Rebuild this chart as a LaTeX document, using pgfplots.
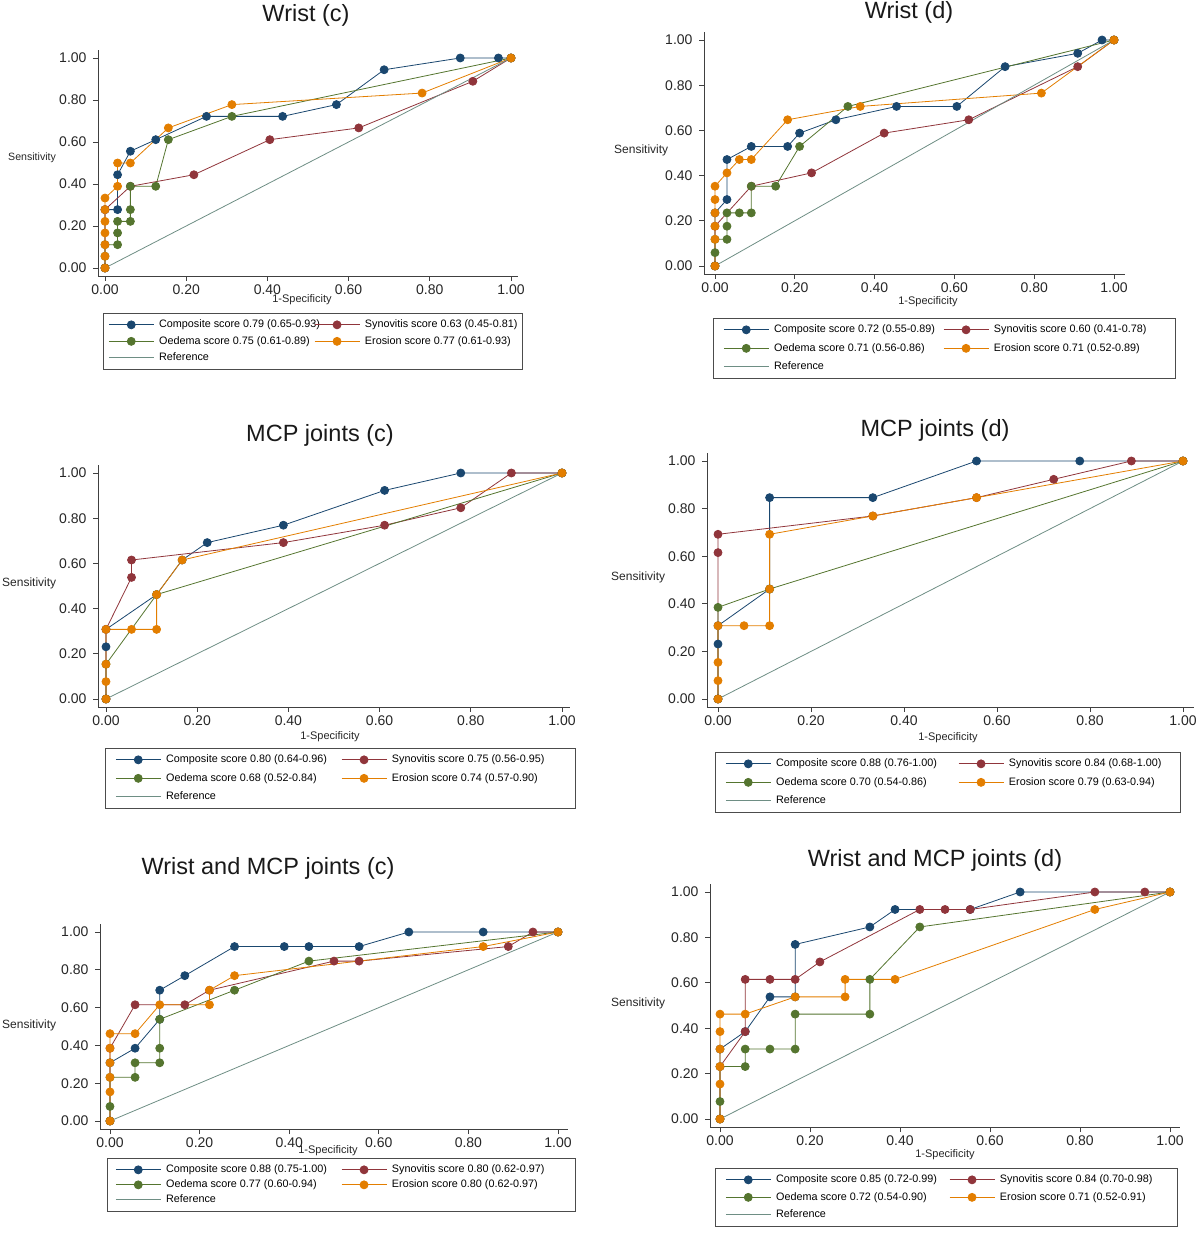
\documentclass[border=0pt]{standalone}
\usepackage{pgfplots}
\pgfplotsset{compat=1.18}
\usepackage{fontspec}
\setmainfont{Liberation Sans}

\definecolor{sNavy}{RGB}{26,71,111}
\definecolor{sMaroon}{RGB}{144,53,59}
\definecolor{sGreen}{RGB}{85,117,47}
\definecolor{sOrange}{RGB}{227,126,0}
\definecolor{sTeal}{RGB}{110,142,132}

\newcommand\setpanel[6]{%
 \pgfmathsetmacro\sx{#3-#2}%
 \pgfmathsetmacro\mL{#2-#1}%
 \pgfmathsetmacro\sy{#5-#4}%
 \pgfmathsetmacro\mB{#6}%
 \pgfmathsetmacro\pxmin{-\mL/\sx}%
 \pgfmathsetmacro\pxmax{1+\mL/\sx}%
 \pgfmathsetmacro\pymin{-\mB/\sy}%
 \pgfmathsetmacro\pymax{1+\mB/\sy}%
 \pgfmathsetmacro\pw{\sx+2*\mL}%
 \pgfmathsetmacro\ph{\sy+2*\mB}%
 \pgfmathsetmacro\pat{1237-#5-\mB}%
 \pgfmathsetmacro\pL{#1}%
}

\pgfplotsset{
 roc/.style={
  scale only axis, anchor=south west,
  at={(\pL pt,\pat pt)}, width=\pw pt, height=\ph pt,
  xmin=\pxmin, xmax=\pxmax, ymin=\pymin, ymax=\pymax,
  enlargelimits=false, clip=false,
  axis lines=left, axis line style={-, line width=0.9pt, black!75},
  xtick={0,0.2,0.4,0.6,0.8,1}, ytick={0,0.2,0.4,0.6,0.8,1},
  xticklabels={0.00,0.20,0.40,0.60,0.80,1.00},
  yticklabels={0.00,0.20,0.40,0.60,0.80,1.00},
  tick align=outside, major tick length=5pt,
  tick style={line width=0.9pt, black!75},
  tick label style={font=\fontsize{14}{16}\selectfont, text=black!85},
  yticklabel style={xshift=-3pt},
  legend columns=2, legend cell align=left,
  legend image code/.code={\draw[##1, mark repeat=2, mark phase=2] plot coordinates {(0pt,0pt) (22.5pt,0pt) (45pt,0pt)}; \path (50pt,0pt);},
  legend style={at={(0,0)}, anchor=north west, draw=black!70, line width=0.7pt,
   inner ysep=5.5pt, column sep=0pt,
   font=\fontsize{10.8}{12}\selectfont,
   nodes={inner sep=0pt, text height=9pt, text depth=3pt}},
 },
 cs/.style={color=sNavy, line width=0.8pt, mark=*, mark size=4pt, mark options={solid, fill=sNavy}},
 ss/.style={color=sMaroon, line width=0.8pt, mark=*, mark size=4pt, mark options={solid, fill=sMaroon}},
 os/.style={color=sGreen, line width=0.8pt, mark=*, mark size=4pt, mark options={solid, fill=sGreen}},
 es/.style={color=sOrange, line width=0.8pt, mark=*, mark size=4pt, mark options={solid, fill=sOrange}},
 rs/.style={color=sTeal, line width=0.8pt, no markers},
}

\newcommand\ttl[3]{\node[font=\fontsize{23.5}{26}\selectfont, text=black!90] at (#1pt,#2pt) {#3};}
\newcommand\sens[3]{\node[anchor=west, inner sep=0pt, font=\fontsize{#3}{14}\selectfont, text=black!85] at (#1pt,#2pt) {Sensitivity};}
\newcommand\spec[2]{\node[inner sep=0pt, font=\fontsize{11}{13}\selectfont, text=black!85] at (#1pt,#2pt) {1-Specificity};}
\newcommand\ca[2]{\makebox[#1pt][l]{#2}}

\begin{document}
\begin{tikzpicture}
\path[use as bounding box] (0pt,0pt) rectangle (1200pt,1237pt);

% ---------------- Panel 1: Wrist (c)
\setpanel{98}{105}{511}{58}{268}{8}
\begin{axis}[roc, legend style={xshift=5pt, yshift=-37pt, row sep=4.5pt, inner xsep=5pt}]
\addplot[cs] coordinates {(0,0) (0,0.278) (0.031,0.278) (0.031,0.444) (0.0625,0.556) (0.125,0.611) (0.25,0.722) (0.4375,0.722) (0.57,0.778) (0.6875,0.944) (0.875,1) (0.969,1) (1,1)};
\addlegendentry{\ca{155}{Composite score 0.79 (0.65-0.93)}}
\addplot[ss] coordinates {(0,0) (0,0.278) (0.0625,0.389) (0.219,0.444) (0.406,0.611) (0.625,0.667) (0.906,0.889) (1,1)};
\addlegendentry{\ca{152}{Synovitis score 0.63 (0.45-0.81)}}
\addplot[os] coordinates {(0,0) (0,0.056) (0,0.111) (0.031,0.111) (0.031,0.167) (0.031,0.222) (0.0625,0.222) (0.0625,0.278) (0.0625,0.389) (0.125,0.389) (0.156,0.611) (0.3125,0.722) (1,1)};
\addlegendentry{\ca{155}{Oedema score 0.75 (0.61-0.89)}}
\addplot[es] coordinates {(0,0) (0,0.056) (0,0.111) (0,0.167) (0,0.222) (0,0.278) (0,0.333) (0.031,0.389) (0.031,0.5) (0.0625,0.5) (0.156,0.667) (0.3125,0.778) (0.781,0.833) (1,1)};
\addlegendentry{\ca{152}{Erosion score 0.77 (0.61-0.93)}}
\addplot[rs] coordinates {(0,0) (1,1)};
\addlegendentry{\ca{155}{Reference}}
\end{axis}
\ttl{306}{1222}{Wrist (c)}
\sens{8}{1079}{10.6}
\spec{302}{937}

% ---------------- Panel 2: Wrist (d)
\setpanel{704}{715}{1114}{40}{266}{8}
\begin{axis}[roc, legend style={xshift=9pt, yshift=-44pt, row sep=6.5pt, inner xsep=10pt}]
\addplot[cs] coordinates {(0,0) (0,0.235) (0.030,0.294) (0.030,0.471) (0.091,0.529) (0.182,0.529) (0.212,0.588) (0.303,0.647) (0.455,0.706) (0.606,0.706) (0.727,0.882) (0.909,0.941) (0.970,1) (1,1)};
\addlegendentry{\ca{169}{Composite score 0.72 (0.55-0.89)}}
\addplot[ss] coordinates {(0,0) (0,0.176) (0.091,0.353) (0.242,0.412) (0.424,0.588) (0.636,0.647) (0.909,0.882) (1,1)};
\addlegendentry{\ca{171}{Synovitis score 0.60 (0.41-0.78)}}
\addplot[os] coordinates {(0,0) (0,0.059) (0,0.118) (0.030,0.118) (0.030,0.176) (0.030,0.235) (0.061,0.235) (0.091,0.235) (0.091,0.353) (0.152,0.353) (0.212,0.529) (0.333,0.706) (1,1)};
\addlegendentry{\ca{169}{Oedema score 0.71 (0.56-0.86)}}
\addplot[es] coordinates {(0,0) (0,0.118) (0,0.176) (0,0.235) (0,0.294) (0,0.353) (0.030,0.412) (0.061,0.471) (0.091,0.471) (0.182,0.647) (0.364,0.706) (0.818,0.765) (1,1)};
\addlegendentry{\ca{171}{Erosion score 0.71 (0.52-0.89)}}
\addplot[rs] coordinates {(0,0) (1,1)};
\addlegendentry{\ca{169}{Reference}}
\end{axis}
\ttl{909}{1225}{Wrist (d)}
\sens{614}{1087}{12}
\spec{928}{935}

% ---------------- Panel 3: MCP joints (c)
\setpanel{98}{106}{562}{473}{699}{8}
\begin{axis}[roc, legend style={xshift=7pt, yshift=-41pt, row sep=6.5pt, inner xsep=10pt}]
\addplot[cs] coordinates {(0,0) (0,0.231) (0,0.308) (0.111,0.462) (0.167,0.615) (0.222,0.692) (0.389,0.769) (0.611,0.923) (0.778,1) (1,1)};
\addlegendentry{\ca{175}{Composite score 0.80 (0.64-0.96)}}
\addplot[ss] coordinates {(0,0) (0,0.308) (0.056,0.538) (0.056,0.615) (0.389,0.692) (0.611,0.769) (0.778,0.846) (0.889,1) (1,1)};
\addlegendentry{\ca{173}{Synovitis score 0.75 (0.56-0.95)}}
\addplot[os] coordinates {(0,0) (0,0.154) (0.111,0.462) (1,1)};
\addlegendentry{\ca{175}{Oedema score 0.68 (0.52-0.84)}}
\addplot[es] coordinates {(0,0) (0,0.077) (0,0.154) (0,0.308) (0.056,0.308) (0.111,0.308) (0.111,0.462) (0.167,0.615) (1,1)};
\addlegendentry{\ca{173}{Erosion score 0.74 (0.57-0.90)}}
\addplot[rs] coordinates {(0,0) (1,1)};
\addlegendentry{\ca{175}{Reference}}
\end{axis}
\ttl{320}{802}{MCP joints (c)}
\sens{2}{654}{12}
\spec{330}{500}

% ---------------- Panel 4: MCP joints (d)
\setpanel{707}{718}{1183}{461}{699}{8}
\begin{axis}[roc, legend style={xshift=8pt, yshift=-45pt, row sep=6.5pt, inner xsep=10pt}]
\addplot[cs] coordinates {(0,0) (0,0.231) (0,0.308) (0.111,0.462) (0.111,0.846) (0.333,0.846) (0.556,1) (0.778,1) (1,1)};
\addlegendentry{\ca{182}{Composite score 0.88 (0.76-1.00)}}
\addplot[ss] coordinates {(0,0) (0,0.615) (0,0.692) (0.333,0.769) (0.556,0.846) (0.722,0.923) (0.889,1) (1,1)};
\addlegendentry{\ca{161}{Synovitis score 0.84 (0.68-1.00)}}
\addplot[os] coordinates {(0,0) (0,0.385) (0.111,0.462) (1,1)};
\addlegendentry{\ca{182}{Oedema score 0.70 (0.54-0.86)}}
\addplot[es] coordinates {(0,0) (0,0.077) (0,0.154) (0,0.308) (0.056,0.308) (0.111,0.308) (0.111,0.462) (0.111,0.692) (0.333,0.769) (0.556,0.846) (1,1)};
\addlegendentry{\ca{161}{Erosion score 0.79 (0.63-0.94)}}
\addplot[rs] coordinates {(0,0) (1,1)};
\addlegendentry{\ca{182}{Reference}}
\end{axis}
\ttl{935}{807}{MCP joints (d)}
\sens{611}{660}{12}
\spec{948}{499}

% ---------------- Panel 5: Wrist and MCP joints (c)
\setpanel{100}{110}{558}{932}{1121}{8}
\begin{axis}[roc, legend style={xshift=7pt, yshift=-29pt, row sep=3pt, inner xsep=8pt}]
\addplot[cs] coordinates {(0,0) (0,0.308) (0.056,0.385) (0.111,0.538) (0.111,0.692) (0.167,0.769) (0.278,0.923) (0.389,0.923) (0.444,0.923) (0.556,0.923) (0.667,1) (0.833,1) (1,1)};
\addlegendentry{\ca{175}{Composite score 0.88 (0.75-1.00)}}
\addplot[ss] coordinates {(0,0) (0,0.385) (0.056,0.615) (0.167,0.615) (0.222,0.692) (0.5,0.846) (0.556,0.846) (0.889,0.923) (0.944,1) (1,1)};
\addlegendentry{\ca{175}{Synovitis score 0.80 (0.62-0.97)}}
\addplot[os] coordinates {(0,0) (0,0.077) (0,0.231) (0.056,0.231) (0.056,0.308) (0.111,0.308) (0.111,0.385) (0.111,0.538) (0.278,0.692) (0.444,0.846) (1,1)};
\addlegendentry{\ca{175}{Oedema score 0.77 (0.60-0.94)}}
\addplot[es] coordinates {(0,0) (0,0.154) (0,0.231) (0,0.308) (0,0.385) (0,0.462) (0.056,0.462) (0.111,0.615) (0.222,0.615) (0.222,0.692) (0.278,0.769) (0.833,0.923) (1,1)};
\addlegendentry{\ca{175}{Erosion score 0.80 (0.62-0.97)}}
\addplot[rs] coordinates {(0,0) (1,1)};
\addlegendentry{\ca{175}{Reference}}
\end{axis}
\ttl{268}{369}{Wrist and MCP joints (c)}
\sens{2}{212}{12}
\spec{328}{86}

% ---------------- Panel 6: Wrist and MCP joints (d)
\setpanel{710}{720}{1170}{892}{1119}{8}
\begin{axis}[roc, legend style={xshift=5pt, yshift=-41pt, row sep=5.5pt, inner xsep=10pt}]
\addplot[cs] coordinates {(0,0) (0,0.308) (0.056,0.385) (0.111,0.538) (0.167,0.538) (0.167,0.769) (0.333,0.846) (0.389,0.923) (0.556,0.923) (0.667,1) (1,1)};
\addlegendentry{\ca{173}{Composite score 0.85 (0.72-0.99)}}
\addplot[ss] coordinates {(0,0) (0,0.231) (0.056,0.385) (0.056,0.615) (0.111,0.615) (0.167,0.615) (0.222,0.692) (0.444,0.923) (0.5,0.923) (0.556,0.923) (0.833,1) (0.944,1) (1,1)};
\addlegendentry{\ca{167}{Synovitis score 0.84 (0.70-0.98)}}
\addplot[os] coordinates {(0,0) (0,0.077) (0,0.231) (0.056,0.231) (0.056,0.308) (0.111,0.308) (0.167,0.308) (0.167,0.462) (0.333,0.462) (0.333,0.615) (0.444,0.846) (1,1)};
\addlegendentry{\ca{173}{Oedema score 0.72 (0.54-0.90)}}
\addplot[es] coordinates {(0,0) (0,0.154) (0,0.231) (0,0.308) (0,0.385) (0,0.462) (0.056,0.462) (0.167,0.538) (0.278,0.538) (0.278,0.615) (0.389,0.615) (0.833,0.923) (1,1)};
\addlegendentry{\ca{167}{Erosion score 0.71 (0.52-0.91)}}
\addplot[rs] coordinates {(0,0) (1,1)};
\addlegendentry{\ca{173}{Reference}}
\end{axis}
\ttl{935}{377}{Wrist and MCP joints (d)}
\sens{611}{234}{12}
\spec{945}{82}

\end{tikzpicture}
\end{document}
